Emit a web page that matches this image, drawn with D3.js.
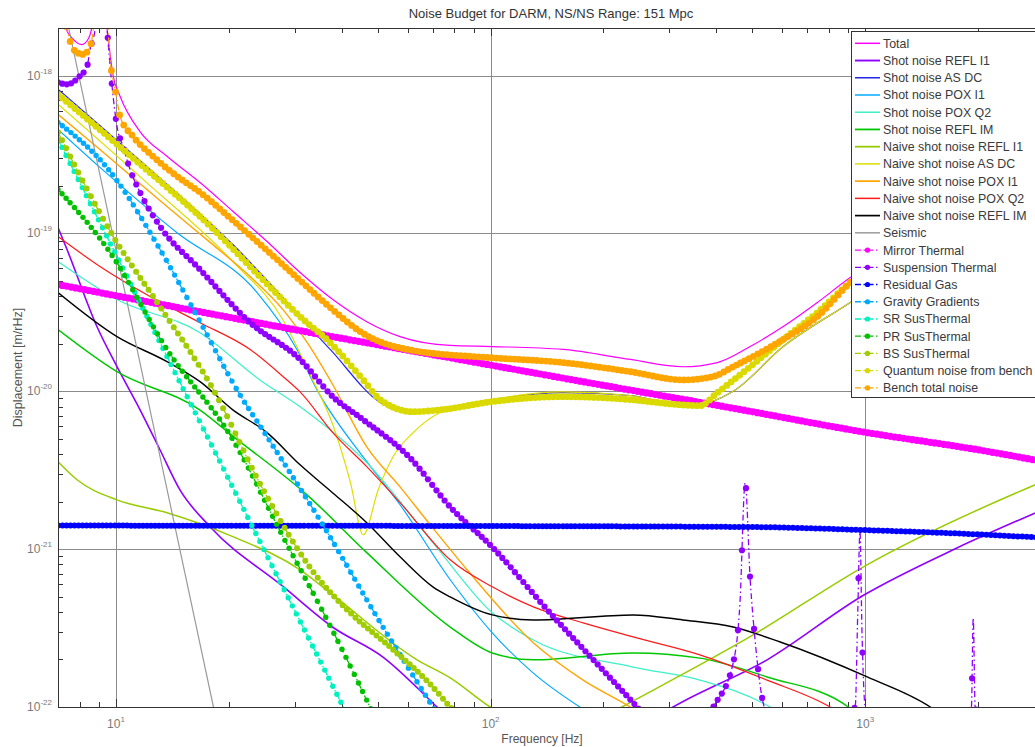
<!DOCTYPE html>
<meta charset="utf-8">
<style>
  body { margin: 0; background: #fff; font-family: "Liberation Sans", Arial, Helvetica, sans-serif; }
  text { font-family: "Liberation Sans", Arial, Helvetica, sans-serif; }
  .tick-label { fill: #7a7a7a; font-size: 12px; }
  .legend text { fill: #3a3a3a; font-size: 12.4px; }
</style>
<body>
<div id="chart"></div>
<script src="https://d3js.org/d3.v7.min.js"></script>
<script>

// --- data: [frequency Hz, displacement m/rtHz] ---
var total = [[7,3.5e-18],[7.31,2.05e-18],[7.68,1.7e-18],[8.11,1.57e-18],[8.45,1.72e-18],[8.63,2.05e-18],[9.0,6e-18],[9.46,2e-18],[9.82,1e-18],[10.25,7.4e-19],[11.6,4.4e-19],[13.7,3.07e-19],[16.76,2.1e-19],[20.5,1.38e-19],[25.3,8.88e-20],[31,5.65e-20],[37.9,3.81e-20],[46.7,2.76e-20],[57.3,2.22e-20],[78,1.95e-20],[101,1.92e-20],[156,1.84e-20],[236,1.59e-20],[326,1.43e-20],[403,1.52e-20],[493,1.92e-20],[604,2.57e-20],[745,3.65e-20],[912,5.25e-20],[1500,1.0e-19],[3000,2.0e-19]];
var shotReflI1 = [[7,1.09e-19],[7.4,7.9e-20],[8.89,2.57e-20],[10.06,1.43e-20],[11.6,7.6e-21],[13.1,4.26e-21],[14.8,2.38e-21],[17.8,1.39e-21],[27.9,5.8e-22],[37.9,3.2e-22],[51.6,2.07e-22],[70.1,1.06e-22],[78,8.3e-23],[150,3e-23],[307,1e-22],[547,1.99e-22],[989,5.1e-22],[1762,1.02e-21],[3000,1.79e-21]];
var shotAsDc = [[7,8.2e-19],[11.1,3.16e-19],[20.5,8.5e-20],[37.3,1.84e-20],[50.7,8.5e-21],[59.8,7.3e-21],[73.3,7.6e-21],[101,8.85e-21],[156,9.8e-21],[236,9.4e-21],[335,8.0e-21],[444,1.0e-20],[604,1.92e-20],[912,3.65e-20],[1500,8e-20],[3000,1.6e-19]];
var shotPoxI1 = [[7,4.56e-19],[9.06,2.62e-19],[14.55,1.01e-19],[23.8,4.22e-20],[30.4,1.84e-20],[34.4,1.02e-20],[46.7,3.58e-21],[57.3,1.91e-21],[78,6.4e-22],[101,2.95e-22],[130,1.64e-22],[173,1e-22],[196,8.3e-23]];
var shotPoxQ2 = [[7,6.63e-20],[10.06,3.81e-20],[16.76,2.35e-20],[24.2,1.18e-20],[31,7.98e-21],[46.7,3.53e-21],[70.1,1.1e-21],[101,3.95e-22],[130,2.66e-22],[240,1.79e-22],[362,1.48e-22],[557,1e-22],[630,8.3e-23]];
var shotReflIM = [[7,2.46e-20],[10.06,1.33e-20],[16.76,7.6e-21],[20.5,5.2e-21],[32.4,2.2e-21],[46.7,9.5e-22],[78,3.21e-22],[101,2.2e-22],[130,1.99e-22],[240,2.2e-22],[362,2.04e-22],[547,1.55e-22],[901,1e-22],[1031,6.2e-23]];
var naiveReflI1 = [[7,3.58e-21],[7.87,2.75e-21],[10.06,2.05e-21],[13.68,1.7e-21],[20.5,1.2e-21],[31,7.4e-22],[37.9,5.13e-22],[63.6,1.99e-22],[78,1.53e-22],[99.7,1e-22],[150,6e-23],[224,1e-22],[502,2.86e-22],[989,7.73e-22],[2845,2.56e-21],[3000,2.7e-21]];
var naiveAsDc = [[7,6.57e-19],[11.8,2.2e-19],[20.5,6.63e-20],[27.9,2.84e-20],[33,1.27e-20],[37.9,6.14e-21],[42.2,2.67e-21],[45.7,1.23e-21],[50.1,2.38e-21],[54.9,3.85e-21],[62.1,5.47e-21],[73.3,7.33e-21],[101,8.85e-21],[156,9.9e-21],[236,9.4e-21],[335,8.0e-21],[444,1.0e-20],[604,1.92e-20],[912,3.65e-20],[1500,8e-20],[3000,1.6e-19]];
var naivePoxI1 = [[7,5.68e-19],[9.06,3.4e-19],[13.68,1.48e-19],[17.83,8.77e-20],[22.8,5.33e-20],[27.9,3.29e-20],[32.4,2.03e-20],[37.9,1.1e-20],[46.7,4.45e-21],[57.3,2.48e-21],[70.1,1.36e-21],[86.5,7.4e-22],[130,2.55e-22],[176.6,1.48e-22],[236,1e-22],[267,8.3e-23]];
var naivePoxQ2 = [[7,9.55e-20],[9.06,6.17e-20],[12.33,3.98e-20],[16.76,2.72e-20],[22.8,1.84e-20],[27.9,1.24e-20],[31,9.9e-21],[37.9,5.47e-21],[46.7,3.33e-21],[57.3,1.97e-21],[78,8.56e-22],[101,5.77e-22],[130,4.31e-22],[176.6,3.41e-22],[240,2.78e-22],[362,2.14e-22],[547,1.48e-22],[806,1e-22],[912,8.3e-23]];
var naiveReflIM = [[7,4.22e-20],[10.06,2.22e-20],[13.68,1.54e-20],[16.76,1.15e-20],[20.5,7.62e-21],[25.3,5.47e-21],[31,3.42e-21],[37.9,2.27e-21],[46.7,1.47e-21],[57.3,8.94e-22],[70.1,5.77e-22],[78,4.98e-22],[101,3.83e-22],[130,3.56e-22],[240,3.83e-22],[326,3.56e-22],[444,3.21e-22],[593,2.58e-22],[1012,1.55e-22],[1492,1e-22],[1793,7.2e-23]];
var seismic = [[7,4.16e-18],[10,7.8e-20],[14,1.85e-21],[18.2,1e-22],[20,3.5e-23]];
var mirrorThermal = [[7,4.74e-20],[16.76,3.19e-20],[31,2.42e-20],[77.9,1.63e-20],[196,1.1e-20],[436,7.87e-21],[1012,5.47e-21],[2000,4.26e-21],[3000,3.58e-21]];
var suspThermal = [[7,9.05e-19],[7.4,8.8e-19],[8.0,9.9e-19],[8.37,1.14e-18],[8.53,1.47e-18],[8.79,1.96e-18],[9.1,8e-18],[9.46,2e-18],[9.76,8.54e-19],[10.06,4.76e-19],[10.44,3.56e-19],[10.9,2.54e-19],[11.59,1.82e-19],[13.1,1.11e-19],[16.76,5.9e-20],[22.8,2.72e-20],[31,1.59e-20],[37.9,9.24e-21],[45.7,6.6e-21],[60.9,3.79e-21],[78,1.85e-21],[101,1.03e-21],[144,3.95e-22],[196,1.79e-22],[246,1e-22],[320,5e-23],[393,1e-22],[444,1.9e-22],[463,4.6e-22],[478,2.63e-21],[493,6.4e-22],[508,2.66e-22],[534,1.06e-22],[620,5e-23],[940,1e-22],[955,4e-22],[968,1.29e-21],[980,3e-22],[1000,1e-22],[1300,5e-23],[1920,1e-22],[1942,3.67e-22],[1965,1e-22],[2500,5e-23]];
var residualGas = [[7,1.41e-21],[100,1.4e-21],[500,1.38e-21],[1000,1.32e-21],[2000,1.24e-21],[3000,1.18e-21]];
var gravityGrad = [[7,5.05e-19],[9.64,2.47e-19],[13.1,7.93e-20],[16.76,2.76e-20],[21.04,1.02e-20],[25.3,5.16e-21],[35,1.53e-21],[51.6,3.21e-22],[70.1,1e-22],[82.9,5.3e-23]];
var srSus = [[7,3.94e-19],[10.9,4.88e-20],[15.1,1.04e-20],[17.83,4.76e-21],[24.24,1.11e-21],[40.4,1e-22],[44.8,6.1e-23]];
var prSus = [[7,1.9e-19],[9.64,7.57e-20],[13.68,1.84e-20],[20.5,4.94e-21],[27.9,1.2e-21],[36.6,3.56e-22],[47.6,1e-22],[52.2,6.2e-23]];
var bsSus = [[7,4.37e-19],[9.94,9.15e-20],[13.1,3.44e-20],[18.2,1.02e-20],[24.7,2.38e-21],[33.6,7.18e-22],[42.2,3.95e-22],[53.9,2.4e-22],[70.1,1.34e-22],[78,1e-22],[88.1,7.7e-23]];
var quantumBench = [[7,7.6e-19],[10.44,3.4e-19],[18.6,1.01e-19],[24.2,5.33e-20],[31,2.97e-20],[37.3,2.03e-20],[45.7,1.18e-20],[50.7,8.85e-21],[62.1,7.42e-21],[73.3,7.62e-21],[101,8.6e-21],[156,9.24e-21],[236,8.85e-21],[321,8.21e-21],[362,8.1e-21],[403,9.8e-21],[493,1.43e-20],[604,2.13e-20],[745,3.15e-20],[912,4.88e-20],[1500,9.5e-20],[3000,1.9e-19]];
var benchTotal = [[7,3e-18],[7.4,1.96e-18],[7.68,1.47e-18],[8.17,1.36e-18],[8.53,1.53e-18],[8.68,1.88e-18],[9.0,5e-18],[9.52,2e-18],[9.64,1.27e-18],[9.82,9.45e-19],[10,7.6e-19],[10.25,5.51e-19],[11.1,4.12e-19],[12.56,3.07e-19],[14.55,2.3e-19],[16.76,1.82e-19],[20.5,1.21e-19],[25.3,7.8e-20],[31,5.03e-20],[37.3,3.39e-20],[45.7,2.32e-20],[62.1,1.81e-20],[101,1.63e-20],[156,1.52e-20],[236,1.33e-20],[326,1.18e-20],[393,1.24e-20],[444,1.43e-20],[604,2.13e-20],[745,2.97e-20],[912,4.88e-20],[1500,9.5e-20],[3000,1.9e-19]];

var names = ["Total", "Shot noise REFL I1", "Shot noise AS DC", "Shot noise POX I1", "Shot noise POX Q2",
  "Shot noise REFL IM", "Naive shot noise REFL I1", "Naive shot noise AS DC", "Naive shot noise POX I1",
  "Naive shot noise POX Q2", "Naive shot noise REFL IM", "Seismic", "Mirror Thermal", "Suspension Thermal",
  "Residual Gas", "Gravity Gradients", "SR SusThermal", "PR SusThermal", "BS SusThermal",
  "Quantum noise from bench", "Bench total noise"];
var curves = [total, shotReflI1, shotAsDc, shotPoxI1, shotPoxQ2, shotReflIM, naiveReflI1, naiveAsDc,
  naivePoxI1, naivePoxQ2, naiveReflIM, seismic, mirrorThermal, suspThermal, residualGas, gravityGrad,
  srSus, prSus, bsSus, quantumBench, benchTotal];

var xTicks = [10, 100, 1000];
var yTicks = [1e-22, 1e-21, 1e-20, 1e-19, 1e-18];

// --- styles ---
var colors = ["#ff00ff", "#9000ff", "#2525e8", "#00aaff", "#3cf0c8", "#00c800", "#99cc00", "#dede00",
  "#ffa500", "#ff1a1a", "#000000", "#9a9a9a", "#ff00ff", "#9000ff", "#0000ff", "#00aaff", "#00f0c0",
  "#00c000", "#a0cc00", "#dada00", "#ffa500"];
var widths = [1.2, 1.6, 1.2, 1.2, 1.2, 1.5, 1.5, 1.2, 1.4, 1.2, 1.4, 1.2];
var markR = {12: 3.6, 13: 3.1, 14: 3, 15: 2.7, 16: 2.7, 17: 2.7, 18: 3, 19: 3.4, 20: 3.4};

var W = 1035, H = 747,
    L = 58, R = 1044, T = 28, B = 707;

var svg = d3.select("#chart").append("svg")
    .attr("width", W).attr("height", H);

var x = d3.scaleLog().domain([7, 3000]).range([L, R]),
    y = d3.scaleLog().domain([1e-22, 2e-18]).range([B, T]);

svg.append("defs").append("clipPath").attr("id", "plot")
  .append("rect").attr("x", L).attr("y", T).attr("width", R - L).attr("height", B - T);

// grid
var grid = svg.append("g").attr("stroke", "#8c8c8c").attr("stroke-width", 1);
yTicks.slice(1).forEach(function(v) {
  var yy = Math.round(y(v)) + 0.5;
  grid.append("line").attr("x1", L).attr("x2", R).attr("y1", yy).attr("y2", yy);
});
xTicks.forEach(function(f) {
  var xx = Math.round(x(f)) + 0.5;
  grid.append("line").attr("x1", xx).attr("x2", xx).attr("y1", T).attr("y2", B);
});

// minor ticks
var ticks = svg.append("g").attr("stroke", "#333").attr("stroke-width", 1);
d3.range(-22, -17).forEach(function(e) {
  for (var m = 2; m <= 9; m++) {
    var v = m * Math.pow(10, e);
    if (v >= 2e-18) continue;
    var yy = Math.round(y(v)) + 0.5;
    ticks.append("line").attr("x1", L).attr("x2", L + 5).attr("y1", yy).attr("y2", yy);
  }
});
[0, 1, 2, 3].forEach(function(e) {
  for (var m = 1; m <= 9; m++) {
    var f = m * Math.pow(10, e);
    if (f < 7 || f > 3000) continue;
    var xx = Math.round(x(f)) + 0.5, len = m === 1 ? 8 : 5;
    ticks.append("line").attr("x1", xx).attr("x2", xx).attr("y1", B).attr("y2", B - len);
    ticks.append("line").attr("x1", xx).attr("x2", xx).attr("y1", T).attr("y2", T + len);
  }
});

// curves
var line = d3.line()
    .x(function(d) { return x(d[0]); })
    .y(function(d) { return y(d[1]); })
    .curve(d3.curveMonotoneX);

var plot = svg.append("g").attr("clip-path", "url(#plot)");

function markerPoints(node, step) {
  var len = node.getTotalLength(), pts = [], nx = -1e9;
  for (var s = 0; s <= len; s += 0.5) {
    var p = node.getPointAtLength(s);
    if (p.x >= nx) { pts.push([p.x, p.y]); nx = p.x + step; }
  }
  return pts;
}

curves.forEach(function(c, i) {
  var p = plot.append("path")
      .attr("d", line(c))
      .attr("fill", "none")
      .attr("stroke", colors[i]);
  if (i < 12) {
    p.attr("stroke-width", widths[i]);
  } else {
    p.attr("stroke-width", 1.3).attr("stroke-dasharray", "6,3,1.5,3");
    var pts = markerPoints(p.node(), 4);
    plot.append("g").selectAll("circle")
        .data(pts)
      .enter().append("circle")
        .attr("cx", function(d) { return d[0]; })
        .attr("cy", function(d) { return d[1]; })
        .attr("r", markR[i])
        .attr("fill", colors[i]);
  }
});

// frame
svg.append("rect").attr("x", L + 0.5).attr("y", T + 0.5)
    .attr("width", R - L).attr("height", B - T)
    .attr("fill", "none").attr("stroke", "#333");

// tick labels
function powLabel(sel, e) {
  sel.append("tspan").text("10");
  sel.append("tspan").attr("dy", -6).attr("font-size", "8px").text(e);
}
yTicks.forEach(function(v) {
  var e = Math.round(Math.log10(v));
  svg.append("text").attr("class", "tick-label")
      .attr("x", 52).attr("y", y(v) + 4)
      .attr("text-anchor", "end")
      .call(powLabel, e);
});
xTicks.forEach(function(f) {
  var e = Math.round(Math.log10(f));
  svg.append("text").attr("class", "tick-label")
      .attr("x", x(f)).attr("y", 728)
      .attr("text-anchor", "middle")
      .call(powLabel, e);
});

// titles
svg.append("text").attr("x", 551).attr("y", 18).attr("text-anchor", "middle")
    .attr("font-size", "13px").attr("fill", "#333")
    .text("Noise Budget for DARM, NS/NS Range: 151 Mpc");
svg.append("text").attr("x", 542).attr("y", 743).attr("text-anchor", "middle")
    .attr("font-size", "12px").attr("fill", "#555")
    .text("Frequency [Hz]");
svg.append("text").attr("transform", "rotate(-90)")
    .attr("x", -(T + B) / 2).attr("y", 22).attr("text-anchor", "middle")
    .attr("font-size", "12.5px").attr("fill", "#555")
    .text("Displacement [m/rHz]");

// legend
var lg = svg.append("g").attr("class", "legend");
lg.append("rect").attr("x", 851.5).attr("y", 31.5).attr("width", 220).attr("height", 366)
    .attr("fill", "#fff").attr("stroke", "#333");
names.forEach(function(n, i) {
  var cy = 43.3 + i * 17.23;
  var l = lg.append("line").attr("x1", 855).attr("x2", 880).attr("y1", cy).attr("y2", cy)
      .attr("stroke", colors[i]);
  if (i < 12) {
    l.attr("stroke-width", widths[i] + 0.3);
  } else {
    l.attr("stroke-width", 1.3).attr("stroke-dasharray", "6,2.5,1.5,2.5");
    lg.append("circle").attr("cx", 867.5).attr("cy", cy).attr("r", 2.6).attr("fill", colors[i]);
  }
  lg.append("text").attr("x", 883).attr("y", cy + 4.5).text(n);
});

</script>
</body>
